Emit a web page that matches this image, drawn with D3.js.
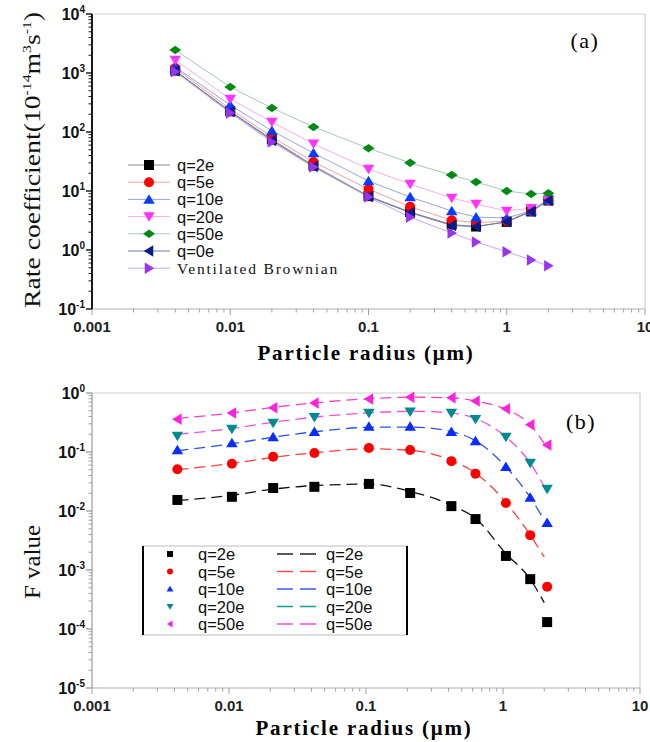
<!DOCTYPE html>
<html>
<head>
<script src="https://d3js.org/d3.v7.min.js"></script>
<style>
  body { margin: 0; background: #fff; }
</style>
</head>
<body>
<svg id="chart"></svg>
<script>
// ---- panel (a) data ----
const radiusA = [0.004, 0.01, 0.02, 0.04, 0.1, 0.2, 0.4, 0.6, 1, 1.5, 2];
const seriesNamesA = ['q=2e', 'q=5e', 'q=10e', 'q=20e', 'q=50e', 'q=0e', 'Ventilated Brownian'];
const rateQ2 = [1100, 225, 75, 27, 8.2, 4.4, 2.7, 2.5, 3.0, 4.5, 6.9];
const rateQ5 = [1210, 245, 83, 31, 10.8, 5.4, 3.2, 2.9, 3.1, 4.6, 7.0];
const rateQ10 = [1260, 286, 105, 44, 14.8, 7.9, 4.6, 3.6, 3.5, 4.6, 7.0];
const rateQ20 = [1660, 363, 148, 63, 23.6, 13.1, 7.6, 6.0, 4.6, 5.1, 7.0];
const rateQ50 = [2450, 580, 255, 122, 53, 30, 18.6, 14.2, 10, 8.9, 9.2];
const rateQ0 = [1080, 220, 72, 26, 8.0, 4.3, 2.6, 2.5, 3.0, 4.5, 6.9];
const rateVent = [1050, 210, 68, 25.5, 7.9, 3.6, 1.94, 1.37, 0.93, 0.68, 0.54];

// ---- panel (b) data ----
const radiusB = [0.0042, 0.0105, 0.021, 0.042, 0.105, 0.21, 0.42, 0.63, 1.05, 1.58, 2.1];
const radiusFit = [0.0042, 0.0105, 0.021, 0.042, 0.105, 0.21, 0.42, 0.63, 1.05, 1.58, 2.0];
const seriesNamesB = ['q=2e', 'q=5e', 'q=10e', 'q=20e', 'q=50e'];
const fQ2 = [0.0154, 0.0174, 0.0245, 0.0257, 0.0288, 0.0202, 0.0121, 0.0073, 0.00173, 0.00070, 0.000131];
const fQ5 = [0.051, 0.063, 0.083, 0.096, 0.117, 0.108, 0.070, 0.043, 0.0137, 0.0039, 0.00052];
const fQ10 = [0.108, 0.142, 0.18, 0.22, 0.27, 0.27, 0.22, 0.154, 0.056, 0.017, 0.0063];
const fQ20 = [0.187, 0.245, 0.31, 0.39, 0.46, 0.48, 0.46, 0.36, 0.18, 0.065, 0.0235];
const fQ50 = [0.36, 0.46, 0.56, 0.68, 0.79, 0.85, 0.83, 0.73, 0.54, 0.29, 0.132];
const fitQ2 = [0.0150, 0.0185, 0.0235, 0.027, 0.0285, 0.0215, 0.0125, 0.0075, 0.0019, 0.00070, 0.00028];
const fitQ5 = [0.050, 0.064, 0.081, 0.097, 0.113, 0.107, 0.072, 0.044, 0.0140, 0.0039, 0.00166];
const fitQ10 = [0.105, 0.138, 0.178, 0.22, 0.262, 0.265, 0.222, 0.155, 0.056, 0.017, 0.0070];
const fitQ20 = [0.20, 0.25, 0.32, 0.39, 0.46, 0.49, 0.46, 0.37, 0.18, 0.065, 0.026];
const fitQ50 = [0.37, 0.46, 0.57, 0.68, 0.80, 0.85, 0.83, 0.73, 0.53, 0.29, 0.14];

const xTicks = [0.001, 0.01, 0.1, 1, 10];
const xTickLabels = ['0.001', '0.01', '0.1', '1', '10'];
const yTickExpA = [-1, 0, 1, 2, 3, 4];
const yTickExpB = [-5, -4, -3, -2, -1, 0];

const width = 650, height = 742;
const serif = 'Liberation Serif, Times New Roman, serif';
const svg = d3.select('#chart').attr('width', width).attr('height', height)
  .style('font-family', 'Liberation Sans, Arial, sans-serif');

// marker paths, r = half width
function markerPath(shape, r) {
  switch (shape) {
    case 'square': return `M${-r},${-r}H${r}V${r}H${-r}Z`;
    case 'circle': return `M${r},0A${r},${r} 0 1,1 ${-r},0A${r},${r} 0 1,1 ${r},0Z`;
    case 'up': return `M0,${-r * 1.05}L${r * 1.15},${r * 0.85}L${-r * 1.15},${r * 0.85}Z`;
    case 'down': return `M0,${r * 1.05}L${r * 1.15},${-r * 0.85}L${-r * 1.15},${-r * 0.85}Z`;
    case 'left': return `M${-r * 1.05},0L${r * 0.85},${-r * 1.15}L${r * 0.85},${r * 1.15}Z`;
    case 'right': return `M${r * 1.05},0L${-r * 0.85},${-r * 1.15}L${-r * 0.85},${r * 1.15}Z`;
    case 'diamond': return `M0,${-r * 0.85}L${r * 1.2},0L0,${r * 0.85}L${-r * 1.2},0Z`;
  }
}

function drawAxes(g, x, y, exps, opt) {
  const [x0, x1] = x.range();
  const [y0, y1] = y.range();
  // frame top/right
  g.append('line').attr('x1', x0).attr('x2', x1).attr('y1', y1).attr('y2', y1)
    .attr('stroke', '#cfcfcf').attr('stroke-width', 1.2);
  g.append('line').attr('x1', x1).attr('x2', x1).attr('y1', y1).attr('y2', y0)
    .attr('stroke', '#cfcfcf').attr('stroke-width', 1.2);
  // bottom axis
  g.append('line').attr('x1', x0).attr('x2', x1).attr('y1', y0).attr('y2', y0)
    .attr('stroke', '#b0b0b0').attr('stroke-width', 1.2);
  for (let e = -3; e < 1; e++) {
    for (let k = 1; k < 10; k++) {
      const v = k * Math.pow(10, e);
      g.append('line').attr('x1', x(v)).attr('x2', x(v))
        .attr('y1', y0).attr('y2', y0 + (k === 1 ? 6 : 3.5))
        .attr('stroke', '#a0a0a0').attr('stroke-width', 1);
    }
  }
  g.append('line').attr('x1', x(10)).attr('x2', x(10)).attr('y1', y0).attr('y2', y0 + 6)
    .attr('stroke', '#a0a0a0');
  g.selectAll('.xtl').data(xTicks).enter().append('text')
    .attr('x', d => x(d)).attr('y', y0 + 23)
    .attr('text-anchor', 'middle').attr('font-weight', 'bold').attr('font-size', 15)
    .attr('fill', '#222')
    .text((d, i) => xTickLabels[i]);
  // left axis
  g.append('line').attr('x1', x0).attr('x2', x0).attr('y1', y0).attr('y2', y1)
    .attr('stroke', opt.leftColor).attr('stroke-width', opt.leftWidth);
  const eMin = d3.min(exps), eMax = d3.max(exps);
  for (let e = eMin; e < eMax; e++) {
    for (let k = 2; k < 10; k++) {
      const v = k * Math.pow(10, e);
      g.append('line').attr('x1', x0).attr('x2', x0 - 3.5).attr('y1', y(v)).attr('y2', y(v))
        .attr('stroke', opt.leftColor).attr('stroke-width', 0.9);
    }
  }
  exps.forEach(e => {
    const v = Math.pow(10, e);
    g.append('line').attr('x1', x0).attr('x2', x0 - 6).attr('y1', y(v)).attr('y2', y(v))
      .attr('stroke', opt.leftColor).attr('stroke-width', 1.3);
    const t = g.append('text').attr('x', x0 - 7).attr('y', y(v) + 6)
      .attr('text-anchor', 'end').attr('font-weight', 'bold').attr('font-size', 16)
      .attr('fill', '#111');
    t.append('tspan').text('10');
    t.append('tspan').attr('dy', -7).attr('font-size', 10).text(String(e));
  });
}

// ================= panel (a) =================
const xA = d3.scaleLog().domain([0.001, 10]).range([92, 645]);
const yA = d3.scaleLog().domain([0.1, 10000]).range([309, 14]);
const gA = svg.append('g');
drawAxes(gA, xA, yA, yTickExpA, { leftColor: '#000', leftWidth: 1.8 });

const seriesA = [
  { name: seriesNamesA[0], values: rateQ2, color: '#000000', line: '#8a8a8a', shape: 'square' },
  { name: seriesNamesA[1], values: rateQ5, color: '#ff0000', line: '#f0a0a0', shape: 'circle' },
  { name: seriesNamesA[2], values: rateQ10, color: '#0a3cff', line: '#9aa6d8', shape: 'up' },
  { name: seriesNamesA[3], values: rateQ20, color: '#ff33ff', line: '#f0b0e8', shape: 'down' },
  { name: seriesNamesA[4], values: rateQ50, color: '#008a14', line: '#a8c8b8', shape: 'diamond' },
  { name: seriesNamesA[5], values: rateQ0, color: '#0a1c8c', line: '#6c78a8', shape: 'left' },
  { name: seriesNamesA[6], values: rateVent, color: '#9933ee', line: '#c8a8e8', shape: 'right' }
];

const lineA = d3.line().x(d => xA(d[0])).y(d => yA(d[1]));
seriesA.forEach(s => {
  const pts = radiusA.map((r, i) => [r, s.values[i]]);
  gA.append('path').attr('d', lineA(pts)).attr('fill', 'none')
    .attr('stroke', s.line).attr('stroke-width', 1);
});
seriesA.forEach(s => {
  gA.selectAll(null).data(radiusA.map((r, i) => [r, s.values[i]])).enter()
    .append('path')
    .attr('transform', d => `translate(${xA(d[0])},${yA(d[1])})`)
    .attr('d', markerPath(s.shape, 5))
    .attr('fill', s.color);
});

// legend (a)
seriesA.forEach((s, i) => {
  const ly = 165 + i * 17.2;
  gA.append('line').attr('x1', 128).attr('x2', 170).attr('y1', ly).attr('y2', ly)
    .attr('stroke', s.line).attr('stroke-width', 1);
  gA.append('path').attr('transform', `translate(149,${ly})`)
    .attr('d', markerPath(s.shape, 5)).attr('fill', s.color);
  const t = gA.append('text').attr('x', 177).attr('y', ly + 6).attr('fill', '#111').text(s.name);
  if (i === 6) {
    t.attr('font-family', serif).attr('font-size', 15.5).attr('letter-spacing', 1.8);
  } else {
    t.attr('font-size', 16.5);
  }
});

gA.append('text').attr('x', 585).attr('y', 48).attr('text-anchor', 'middle')
  .attr('font-family', serif).attr('font-size', 22)
  .attr('letter-spacing', 1.5).text('(a)');

gA.append('text').attr('x', 366).attr('y', 360).attr('text-anchor', 'middle')
  .attr('font-family', serif).attr('font-size', 21)
  .attr('font-weight', 'bold').attr('letter-spacing', 1.8).text('Particle radius (\u03bcm)');

const ylabA = gA.append('text').attr('transform', 'translate(40,160) rotate(-90)')
  .attr('text-anchor', 'middle')
  .attr('font-family', serif).attr('font-size', 23)
  .attr('textLength', 296).attr('lengthAdjust', 'spacingAndGlyphs')
  .attr('fill', '#111');
ylabA.append('tspan').text('Rate coefficient(10');
ylabA.append('tspan').attr('dy', -9).attr('font-size', 13).text('-14');
ylabA.append('tspan').attr('dy', 9).text('m');
ylabA.append('tspan').attr('dy', -9).attr('font-size', 13).text('3');
ylabA.append('tspan').attr('dy', 9).text('s');
ylabA.append('tspan').attr('dy', -9).attr('font-size', 13).text('-1');
ylabA.append('tspan').attr('dy', 9).text(')');

// ================= panel (b) =================
const xB = d3.scaleLog().domain([0.001, 10]).range([92, 640]);
const yB = d3.scaleLog().domain([1e-5, 1]).range([688, 393]);
const gB = svg.append('g');
drawAxes(gB, xB, yB, yTickExpB, { leftColor: '#9a9a9a', leftWidth: 1.2 });

const seriesB = [
  { name: seriesNamesB[0], values: fQ2, fit: fitQ2, color: '#000000', line: '#111111', legLine: '#222222', shape: 'square' },
  { name: seriesNamesB[1], values: fQ5, fit: fitQ5, color: '#ff0000', line: '#ff3c3c', legLine: '#ff4d4d', shape: 'circle' },
  { name: seriesNamesB[2], values: fQ10, fit: fitQ10, color: '#0a2cff', line: '#2d50e6', legLine: '#3a5ce8', shape: 'up' },
  { name: seriesNamesB[3], values: fQ20, fit: fitQ20, color: '#008c8c', line: '#f050d8', legLine: '#15a090', shape: 'down' },
  { name: seriesNamesB[4], values: fQ50, fit: fitQ50, color: '#ff22dd', line: '#f040c8', legLine: '#ff40dd', shape: 'left' }
];

const lineB = d3.line().x(d => xB(d[0])).y(d => yB(d[1])).curve(d3.curveMonotoneX);
seriesB.forEach(s => {
  const pts = radiusFit.map((r, i) => [r, s.fit[i]]);
  gB.append('path').attr('d', lineB(pts)).attr('fill', 'none')
    .attr('stroke', s.line).attr('stroke-width', 1.3).attr('stroke-dasharray', '11,6');
});
seriesB.forEach(s => {
  gB.selectAll(null).data(radiusB.map((r, i) => [r, s.values[i]])).enter()
    .append('path')
    .attr('transform', d => `translate(${xB(d[0])},${yB(d[1])})`)
    .attr('d', markerPath(s.shape, 5))
    .attr('fill', s.color);
});

// legend (b)
gB.append('rect').attr('x', 143).attr('y', 546).attr('width', 264).attr('height', 89)
  .attr('fill', '#fff').attr('stroke', '#bdbdbd').attr('stroke-width', 1);
gB.append('line').attr('x1', 143).attr('x2', 143).attr('y1', 546).attr('y2', 635)
  .attr('stroke', '#000').attr('stroke-width', 2);
gB.append('line').attr('x1', 407).attr('x2', 407).attr('y1', 546).attr('y2', 635)
  .attr('stroke', '#000').attr('stroke-width', 2);
seriesB.forEach((s, i) => {
  const ly = 554 + i * 17.5;
  gB.append('path').attr('transform', `translate(170,${ly})`)
    .attr('d', markerPath(s.shape, 3)).attr('fill', s.color);
  gB.append('text').attr('x', 198).attr('y', ly + 6).attr('font-size', 16.5)
    .attr('fill', '#111').text(s.name);
  gB.append('line').attr('x1', 277).attr('x2', 317).attr('y1', ly).attr('y2', ly)
    .attr('stroke', s.legLine).attr('stroke-width', 1.3).attr('stroke-dasharray', '16,7');
  gB.append('text').attr('x', 326).attr('y', ly + 6).attr('font-size', 16.5)
    .attr('fill', '#111').text(s.name);
});

gB.append('text').attr('x', 581).attr('y', 429).attr('text-anchor', 'middle')
  .attr('font-family', serif).attr('font-size', 22)
  .attr('letter-spacing', 1.5).text('(b)');

gB.append('text').attr('x', 364).attr('y', 735).attr('text-anchor', 'middle')
  .attr('font-family', serif).attr('font-size', 21)
  .attr('font-weight', 'bold').attr('letter-spacing', 1.8).text('Particle radius (\u03bcm)');

gB.append('text').attr('transform', 'translate(40,562) rotate(-90)')
  .attr('text-anchor', 'middle')
  .attr('font-family', serif).attr('font-size', 23)
  .attr('textLength', 74).attr('lengthAdjust', 'spacingAndGlyphs')
  .attr('fill', '#111').text('F value');
</script>
</body>
</html>
